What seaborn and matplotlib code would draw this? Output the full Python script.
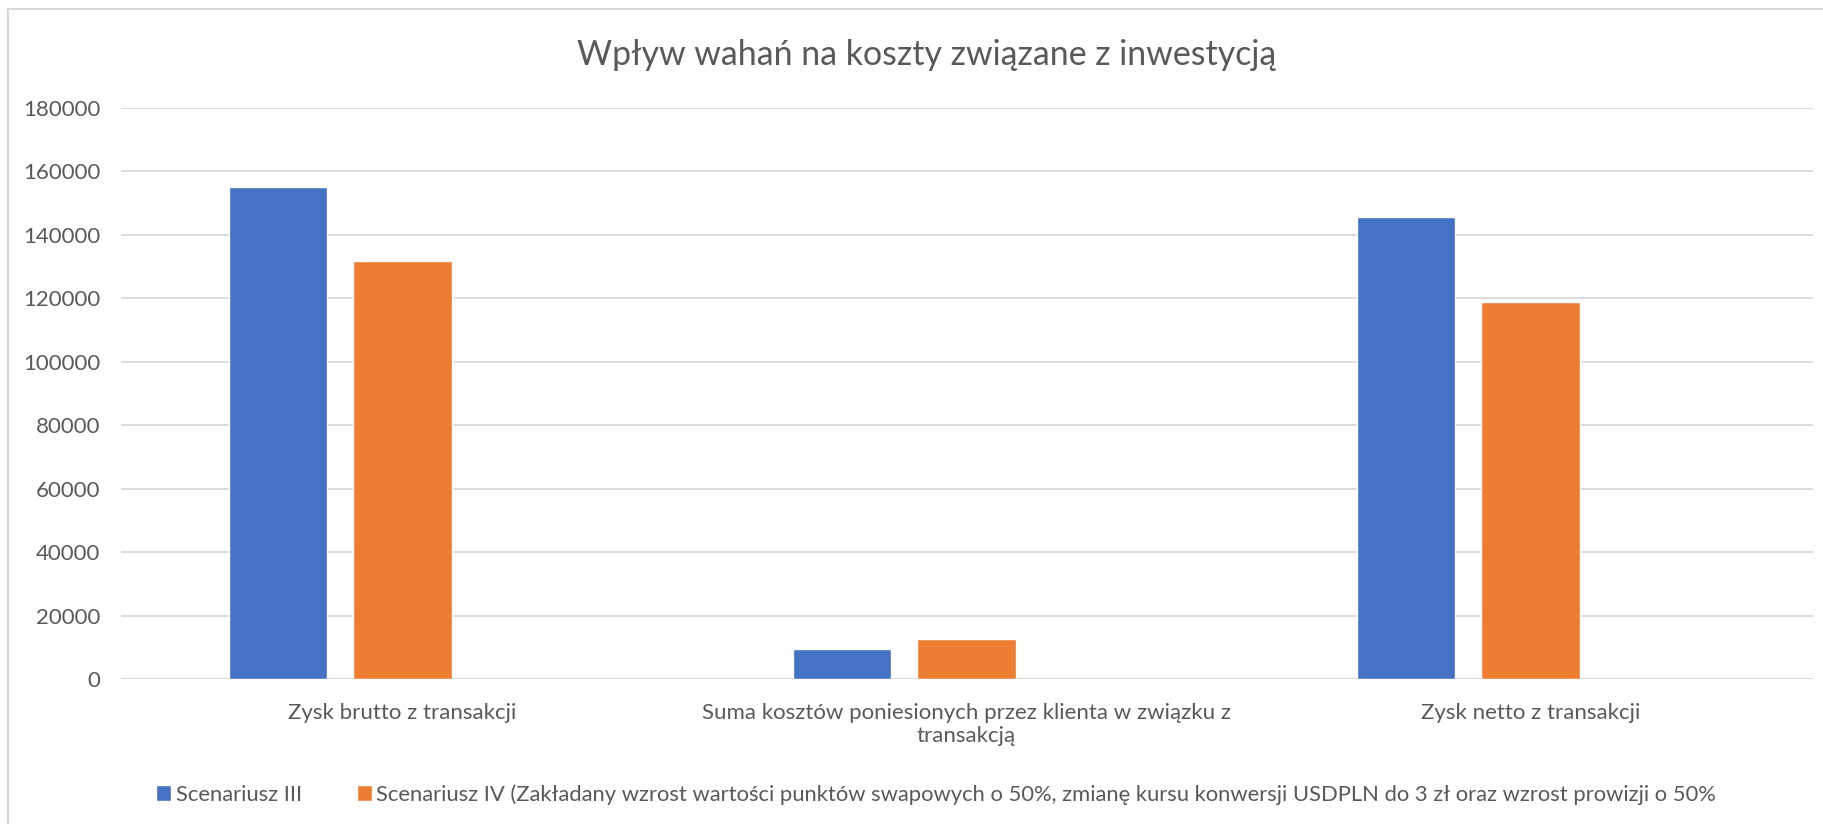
import numpy as np
import pandas as pd
import seaborn as sns
import matplotlib.pyplot as plt
from matplotlib.lines import Line2D

# Values
categories = [
    "Zysk brutto z transakcji",
    "Suma kosztów poniesionych przez klienta w związku z\ntransakcją",
    "Zysk netto z transakcji",
]
scenario_names = [
    "Scenariusz III",
    "Scenariusz IV (Zakładany wzrost wartości punktów swapowych o 50%, "
    "zmianę kursu konwersji USDPLN do 3 zł oraz wzrost prowizji o 50%",
    " ",  # empty third series in the original workbook (keeps the slot)
]
scenario_3 = [155000, 9500, 145600]
scenario_4 = [131700, 12700, 118700]
scenario_empty = [np.nan, np.nan, np.nan]
y_ticks = [0, 20000, 40000, 60000, 80000, 100000, 120000, 140000, 160000, 180000]

df = pd.DataFrame({
    "kategoria": categories * 3,
    "scenariusz": [n for n in scenario_names for _ in categories],
    "wartosc": scenario_3 + scenario_4 + scenario_empty,
})

sns.set_style("white")
plt.rcParams["font.family"] = ["Lato", "DejaVu Sans"]
text_color = "#595959"
grid_color = "#D9D9D9"

fig = plt.figure(figsize=(18.23, 8.24), dpi=100)
ax = fig.add_axes([0.0661, 0.176, 0.9282, 0.693])

sns.barplot(data=df, x="kategoria", y="wartosc", hue="scenariusz",
            hue_order=scenario_names,
            palette=["#4472C4", "#ED7D31", "#A5A5A5"], width=0.663, gap=0.211,
            saturation=1, ax=ax, legend=True)

ax.set_ylim(0, 180000)
ax.set_yticks(y_ticks)
ax.set_yticklabels([str(v) for v in y_ticks])
ax.set_xlim(-0.5, 2.5)
ax.yaxis.grid(True, color=grid_color, linewidth=1.3)
ax.set_axisbelow(True)
for s in ax.spines.values():
    s.set_visible(False)
ax.tick_params(axis="y", length=0, pad=14.5, labelsize=16, labelcolor=text_color)
ax.tick_params(axis="x", length=0, pad=17, labelsize=16, labelcolor=text_color)
ax.set_xlabel("")
ax.set_ylabel("")

handles, labels = ax.get_legend_handles_labels()
ax.get_legend().remove()
fig.legend(handles[:2], labels[:2], loc="center", bbox_to_anchor=(936 / 1823, 0.036),
           ncol=2, frameon=False, fontsize=15.8, labelcolor=text_color,
           handlelength=0.7, handleheight=0.7, handletextpad=0.2,
           columnspacing=2.5)

fig.text(927 / 1823, 0.933, "Wpływ wahań na koszty związane z inwestycją",
         ha="center", va="center", fontsize=24.4, color=text_color)

# chart area border (left and top edges visible)
fig.add_artist(Line2D([8 / 1823, 8 / 1823], [0, 1 - 9 / 824], color=grid_color, lw=1.5))
fig.add_artist(Line2D([8 / 1823, 1], [1 - 9 / 824, 1 - 9 / 824], color=grid_color, lw=1.5))

fig.savefig("out.png", dpi=100)
